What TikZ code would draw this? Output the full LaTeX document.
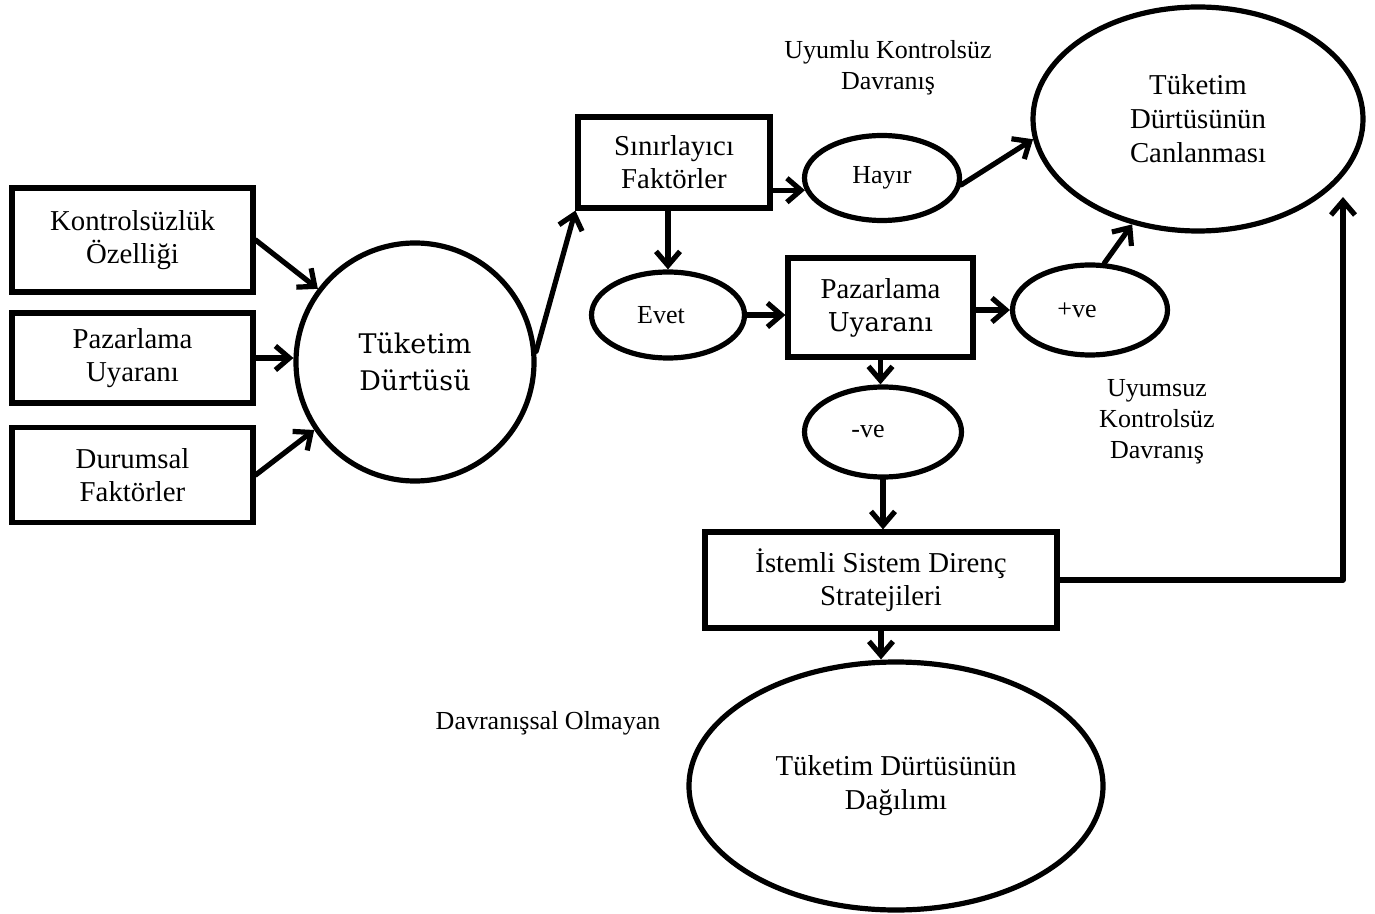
\documentclass[tikz,border=0pt]{standalone}
\usepackage{fontspec}
\setmainfont{Liberation Serif}
\newfontfamily\cambf{DejaVu Serif}
\usetikzlibrary{arrows.meta,shapes.geometric,calc}
\begin{document}
\begin{tikzpicture}[x=0.5pt,y=-0.5pt,
  lw/.style={line width=2.6pt},
  box/.style={draw,lw,rectangle,inner sep=0pt,align=center,font=\fontsize{14.4}{16.5}\selectfont},
  ell/.style={draw,lw,ellipse,inner sep=0pt,align=center,font=\fontsize{13}{15.5}\selectfont},
  lab/.style={align=center,inner sep=0pt,font=\fontsize{13}{15.5}\selectfont},
  arr/.style={lw,line cap=round,line join=round,-{Straight Barb[length=7pt,width=12pt]}}]
\useasboundingbox (0,0) rectangle (1375,914);

\node[box,minimum width=120.5pt,minimum height=52pt] (kont) at (132.5,240) {Kontrolsüzlük\\Özelliği};
\node[box,minimum width=120.5pt,minimum height=45pt] (pl) at (132.5,358) {Pazarlama\\Uyaranı};
\node[box,minimum width=120.5pt,minimum height=47.5pt] (dur) at (132.5,475) {Durumsal\\Faktörler};
\node[circle,draw,lw,minimum size=119pt,inner sep=0pt,align=center,font=\cambf\fontsize{13.5}{18.5}\selectfont] (tuk) at (415,362) {Tüketim\\Dürtüsü};

\node[box,minimum width=96pt,minimum height=45.5pt] (sin) at (674,162.5) {Sınırlayıcı\\Faktörler};
\node[ell,minimum width=77.5pt,minimum height=42.5pt] (hay) at (882,178) {Hayır};
\node[ell,minimum width=165pt,minimum height=112pt,font=\fontsize{14.4}{17}\selectfont] (can) at (1198,119) {Tüketim\\Dürtüsünün\\Canlanması};
\node[ell,minimum width=76.5pt,minimum height=43pt] (ev) at (668,315) {Evet\hspace*{7pt}};
\node[box,minimum width=92.5pt,minimum height=49.5pt] (pm) at (880.5,307.5) {Pazarlama\\{\cambf\fontsize{13}{17.5}\selectfont Uyaranı}};
\node[ell,minimum width=77.5pt,minimum height=45pt] (pv) at (1090,310) {+ve\hspace*{13pt}};
\node[ell,minimum width=78.5pt,minimum height=45pt] (nv) at (883,432) {-ve\hspace*{15pt}};
\node[box,minimum width=176pt,minimum height=48pt] (ist) at (881,580) {İstemli Sistem Direnç\\Stratejileri};
\node[ell,minimum width=207pt,minimum height=124pt,font=\fontsize{14.4}{17}\selectfont] (dag) at (896,786) {Tüketim Dürtüsünün\\Dağılımı};

\node[lab] (l1) at (888,68) {Uyumlu Kontrolsüz\\Davranış};
\node[lab] (l2) at (1157,422) {Uyumsuz\\Kontrolsüz\\Davranış};
\node[lab] (l3) at (548,723) {Davranışsal Olmayan};

\draw[arr] (kont.east) -- (tuk.143);
\draw[arr] (pl.east) -- (pl.east -| tuk.west);
\draw[arr] (dur.east) -- (tuk.214);
\draw[arr] (tuk.5) -- (sin.south west);
\draw[arr] (sin.east |- hay.189) -- (hay.189);
\draw[arr] (hay.355) -- (can.187);
\draw[arr] (sin.south -| ev.north) -- (ev.north);
\draw[arr] (ev.east) -- (ev.east -| pm.west);
\draw[arr] (pm.east |- pv.west) -- (pv.west);
\draw[arr] (pv.73) -- (can.238);
\draw[arr] (pm.south) -- (pm.south |- nv.north);
\draw[arr] (nv.south) -- (nv.south |- ist.north);
\draw[arr] (ist.south) -- (ist.south |- dag.north);
\coordinate (ct) at (1343,197);
\draw[arr] (ist.east) -| (ct);
\end{tikzpicture}
\end{document}
